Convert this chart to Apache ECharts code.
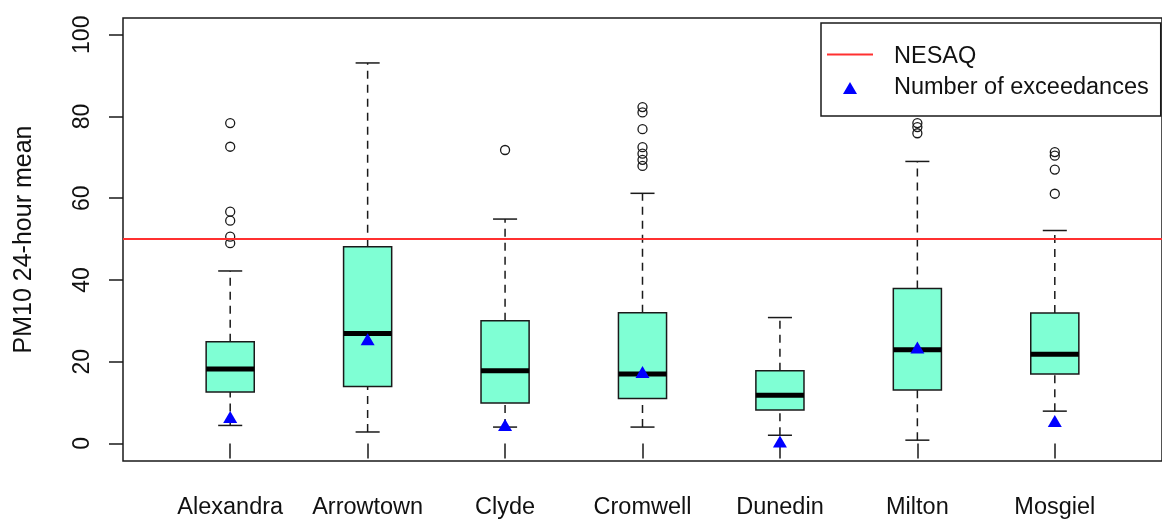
<!DOCTYPE html>
<html>
<head>
<meta charset="utf-8">
<script src="https://cdn.jsdelivr.net/npm/echarts@6/dist/echarts.min.js"></script>
<style>
  html, body { margin: 0; padding: 0; background: #fff; }
  #chart { width: 1162px; height: 520px; }
</style>
</head>
<body>
<div id="chart"></div>
<script>
const categories = ['Alexandra', 'Arrowtown', 'Clyde', 'Cromwell', 'Dunedin', 'Milton', 'Mosgiel']
const whiskerLow = [4.4, 2.8, 4.0, 4.0, 2.0, 0.8, 7.9]
const q1 = [12.6, 13.9, 9.9, 11.0, 8.2, 13.1, 17.0]
const median = [18.2, 26.9, 17.8, 17.0, 11.8, 22.9, 21.8]
const q3 = [24.9, 48.1, 30.0, 32.0, 17.8, 37.9, 31.9]
const whiskerHigh = [42.2, 93.1, 54.9, 61.2, 30.8, 69.0, 52.1]
const outliers = [
  [78.4, 72.6, 56.7, 54.5, 50.6, 49.0],
  [],
  [71.8],
  [82.3, 81.0, 76.9, 72.5, 70.9, 69.4, 67.9],
  [],
  [78.4, 77.4, 75.9],
  [71.3, 70.4, 67.0, 61.1]
]
const exceedances = [6, 25, 4, 17, 0, 23, 5]
const nesaq = 50
const yTicks = [0, 20, 40, 60, 80, 100]

const font = "'Liberation Sans', Arial, sans-serif"
const ink = '#1a1a1a'
const boxWidth = 0.35

const boxData = categories.map((c, i) => [i + 1, whiskerLow[i], q1[i], median[i], q3[i], whiskerHigh[i]])
const outlierData = []
outliers.forEach((vals, i) => vals.forEach(v => outlierData.push([i + 1, v])))
const exceedData = exceedances.map((v, i) => [i + 1, v])

// boxplot drawn by hand, R style: dashed whiskers, staples, thick median
function renderBox(params, api) {
  const x = api.value(0)
  const lo = api.coord([x, api.value(1)])
  const b1 = api.coord([x, api.value(2)])
  const md = api.coord([x, api.value(3)])
  const b3 = api.coord([x, api.value(4)])
  const hi = api.coord([x, api.value(5)])
  const half = api.size([boxWidth, 0])[0] / 2
  const cap = half / 2
  const dash = { stroke: ink, lineWidth: 1.5, lineDash: [8, 6] }
  const solid = { stroke: ink, lineWidth: 1.5 }
  return {
    type: 'group',
    children: [
      { type: 'line', shape: { x1: lo[0], y1: lo[1], x2: b1[0], y2: b1[1] }, style: dash },
      { type: 'line', shape: { x1: b3[0], y1: b3[1], x2: hi[0], y2: hi[1] }, style: dash },
      { type: 'line', shape: { x1: lo[0] - cap, y1: lo[1], x2: lo[0] + cap, y2: lo[1] }, style: solid },
      { type: 'line', shape: { x1: hi[0] - cap, y1: hi[1], x2: hi[0] + cap, y2: hi[1] }, style: solid },
      {
        type: 'rect',
        shape: { x: b3[0] - half, y: b3[1], width: half * 2, height: b1[1] - b3[1] },
        style: { fill: '#7fffd4', stroke: ink, lineWidth: 1.5 }
      },
      { type: 'line', shape: { x1: md[0] - half, y1: md[1], x2: md[0] + half, y2: md[1] }, style: { stroke: '#000', lineWidth: 5 } }
    ]
  }
}

const chart = echarts.init(document.getElementById('chart'))
chart.setOption({
  animation: false,
  textStyle: { fontFamily: font },
  grid: {
    left: 123, top: 18, width: 1049, height: 443,
    show: true, borderColor: ink, borderWidth: 1.5, backgroundColor: 'transparent'
  },
  legend: {
    left: 821, top: 23,
    orient: 'vertical',
    padding: [22, 12, 16, 6],
    itemGap: 7,
    itemWidth: 46,
    itemHeight: 12,
    symbolKeepAspect: true,
    borderColor: ink, borderWidth: 1.5, backgroundColor: '#fff',
    textStyle: { fontSize: 23.5, color: '#111', fontFamily: font, padding: [0, 0, 0, 16] },
    data: [
      // the tiny second subpath only lifts the red line a little above the text centre
      { name: 'NESAQ', icon: 'path://M0,0h46v2h-46z M0,7h0.01v0.01z', symbolKeepAspect: true },
      { name: 'Number of exceedances', icon: 'path://M7,0L14,12L0,12Z', symbolKeepAspect: true }
    ]
  },
  xAxis: {
    type: 'value', min: 0.22, max: 7.78,
    splitLine: { show: false },
    axisLine: { show: false },
    axisTick: { show: true, length: 15, customValues: categories.map((c, i) => i + 1), lineStyle: { color: ink, width: 1.5 } },
    axisLabel: {
      customValues: categories.map((c, i) => i + 1),
      formatter: v => categories[Math.round(v) - 1],
      margin: 35, fontSize: 23.5, color: '#111', fontFamily: font
    }
  },
  yAxis: {
    type: 'value', min: -4.3, max: 104.1,
    name: 'PM10 24-hour mean', nameLocation: 'middle', nameRotate: 90, nameGap: 86,
    nameTextStyle: { fontSize: 25, color: '#111', fontFamily: font },
    splitLine: { show: false },
    axisLine: { show: false },
    axisTick: { show: true, length: 14, customValues: yTicks, lineStyle: { color: ink, width: 1.5 } },
    axisLabel: { customValues: yTicks, rotate: 90, margin: 29, fontSize: 23, color: '#111', fontFamily: font }
  },
  series: [
    {
      type: 'custom', name: 'box', renderItem: renderBox, data: boxData,
      encode: { x: 0, y: [1, 2, 3, 4, 5] }, z: 2
    },
    {
      type: 'scatter', name: 'outliers', data: outlierData,
      symbol: 'circle', symbolSize: 9,
      itemStyle: { color: 'none', borderColor: ink, borderWidth: 1.3, opacity: 1 }, z: 3
    },
    {
      type: 'line', name: 'NESAQ', data: [], symbol: 'none',
      itemStyle: { color: '#ff3030' }, lineStyle: { color: '#ff3030', width: 2 },
      markLine: {
        silent: true, symbol: 'none', label: { show: false },
        lineStyle: { color: '#ff3030', width: 2, type: 'solid' },
        data: [{ yAxis: nesaq }]
      },
      z: 4
    },
    {
      type: 'scatter', name: 'Number of exceedances', data: exceedData,
      symbol: 'triangle', symbolSize: [14, 12], symbolOffset: [0, -2],
      itemStyle: { color: '#0000ff', opacity: 1 }, z: 5
    }
  ]
})
window.addEventListener('resize', () => chart.resize())
</script>
</body>
</html>
